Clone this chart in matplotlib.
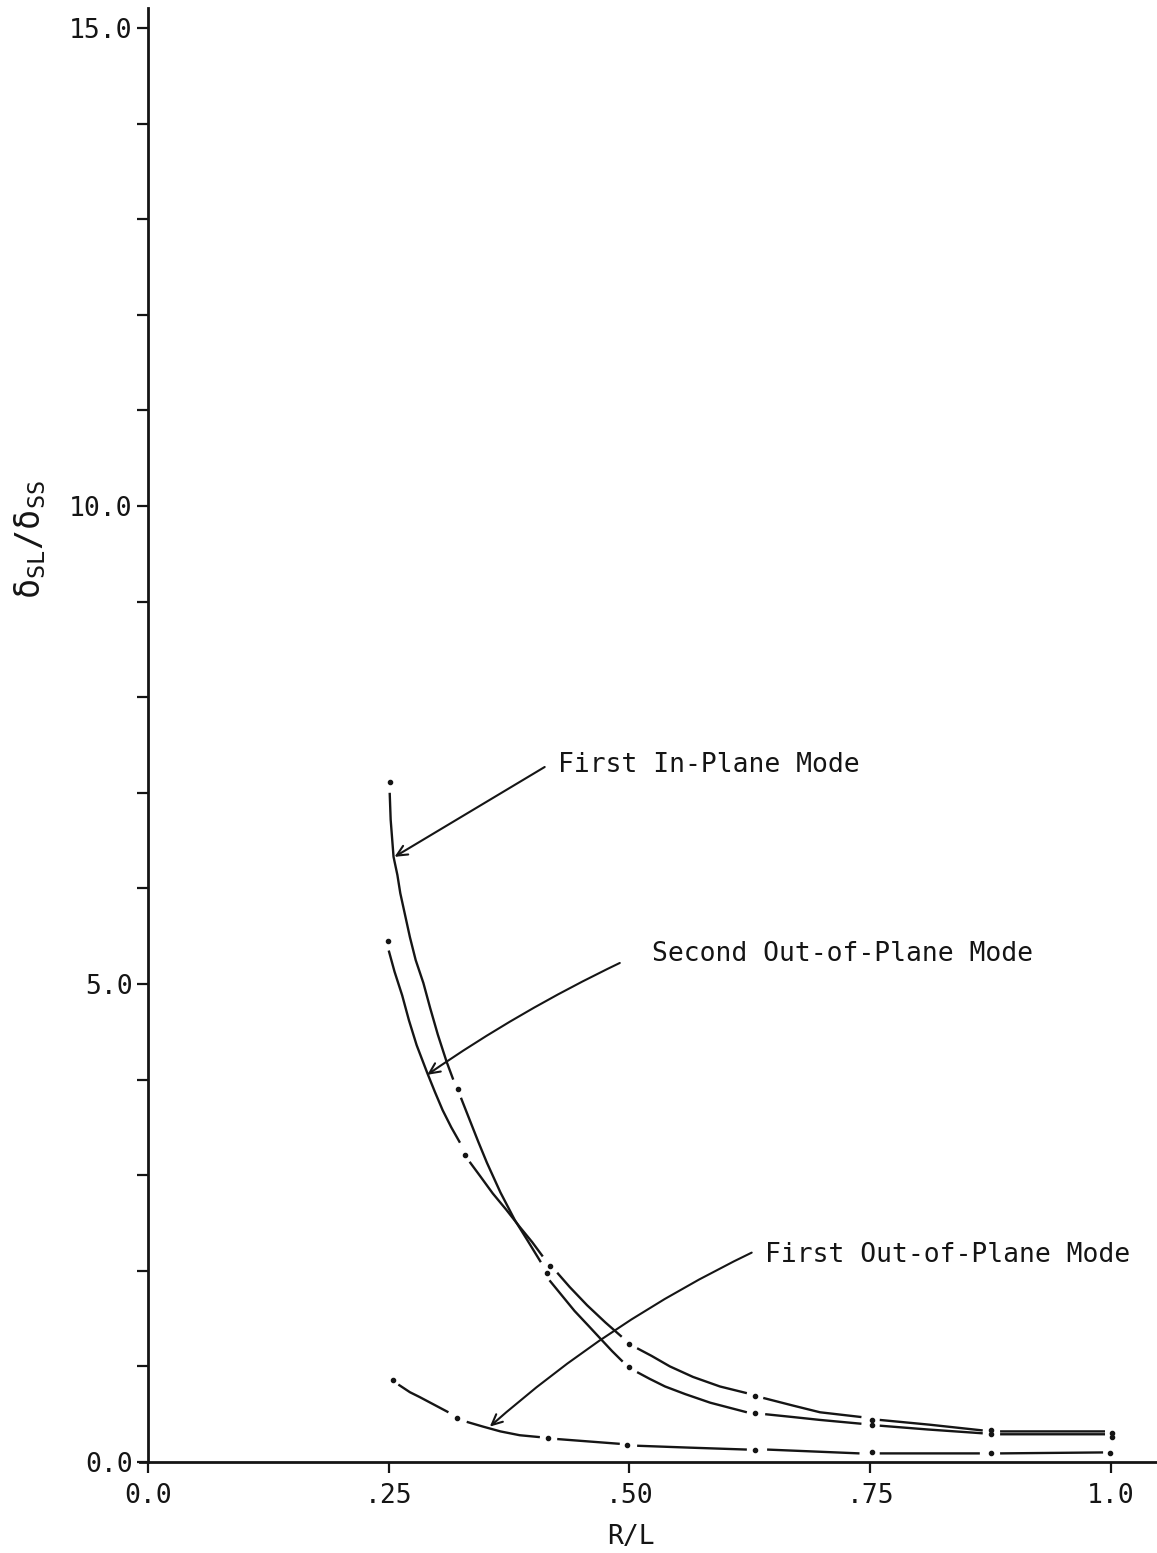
import matplotlib.pyplot as plt
from matplotlib.ticker import MultipleLocator
import numpy as np

nan = np.nan

# R/L vs delta_SL/delta_SS. nan splits the dashes of the dash-dot lines.
inplane_x = [0.251, 0.252, 0.255, 0.259, 0.262, 0.267, 0.272, 0.278, 0.286, 0.293, 0.301, 0.310, 0.317, nan,
             0.325, 0.334, 0.343, 0.352, 0.366, 0.381, 0.394, 0.408, nan,
             0.417, 0.430, 0.443, 0.457, 0.469, 0.482, 0.493, nan,
             0.508, 0.521, 0.537, 0.558, 0.584, 0.622, nan,
             0.641, 0.670, 0.698, 0.741, nan,
             0.760, 0.810, 0.867, nan,
             0.885, 0.994]
inplane_y = [7.00, 6.72, 6.33, 6.14, 5.95, 5.72, 5.49, 5.25, 5.01, 4.75, 4.47, 4.19, 4.00, nan,
             3.81, 3.58, 3.35, 3.13, 2.82, 2.53, 2.32, 2.09, nan,
             1.90, 1.74, 1.58, 1.43, 1.30, 1.16, 1.05, nan,
             0.94, 0.87, 0.79, 0.71, 0.62, 0.52, nan,
             0.50, 0.47, 0.44, 0.40, nan,
             0.38, 0.34, 0.30, nan,
             0.29, 0.29]
inplane_dot_x = [0.251, 0.322, 0.414, 0.500, 0.630, 0.752, 0.876, 1.001]
inplane_dot_y = [7.11, 3.90, 1.98, 0.99, 0.51, 0.39, 0.29, 0.26]

second_oop_x = [0.250, 0.256, 0.264, 0.271, 0.279, 0.290, 0.298, 0.306, 0.315, 0.324, nan,
                0.334, 0.345, 0.358, 0.372, 0.386, 0.399, 0.410, nan,
                0.425, 0.438, 0.456, 0.475, 0.492, nan,
                0.508, 0.523, 0.542, 0.566, 0.594, 0.622, nan,
                0.639, 0.670, 0.698, 0.741, nan,
                0.760, 0.812, 0.867, nan,
                0.885, 0.994]
second_oop_y = [5.35, 5.13, 4.88, 4.62, 4.36, 4.07, 3.87, 3.68, 3.50, 3.34, nan,
                3.14, 2.99, 2.81, 2.64, 2.46, 2.30, 2.15, nan,
                1.98, 1.83, 1.64, 1.46, 1.31, nan,
                1.19, 1.11, 1.00, 0.89, 0.79, 0.72, nan,
                0.67, 0.59, 0.52, 0.47, nan,
                0.44, 0.39, 0.33, nan,
                0.32, 0.32]
second_oop_dot_x = [0.249, 0.329, 0.417, 0.500, 0.630, 0.752, 0.876, 1.001]
second_oop_dot_y = [5.45, 3.21, 2.05, 1.23, 0.69, 0.44, 0.33, 0.30]

first_oop_x = [0.260, 0.272, 0.282, 0.297, 0.312, nan,
               0.331, 0.348, 0.366, 0.386, 0.407, nan,
               0.425, 0.490, nan,
               0.508, 0.563, 0.622, nan,
               0.643, 0.739, nan,
               0.760, 0.864, nan,
               0.885, 0.992]
first_oop_y = [0.81, 0.73, 0.68, 0.60, 0.52, nan,
               0.42, 0.37, 0.32, 0.28, 0.26, nan,
               0.24, 0.19, nan,
               0.17, 0.15, 0.13, nan,
               0.13, 0.09, nan,
               0.09, 0.09, nan,
               0.09, 0.10]
first_oop_dot_x = [0.254, 0.321, 0.415, 0.498, 0.630, 0.752, 0.876, 0.999]
first_oop_dot_y = [0.86, 0.46, 0.25, 0.18, 0.13, 0.10, 0.09, 0.09]

x_ticks = [0.0, 0.25, 0.50, 0.75, 1.0]
x_tick_labels = ['0.0', '.25', '.50', '.75', '1.0']
y_ticks = [0.0, 5.0, 10.0, 15.0]
y_tick_labels = ['0.0', '5.0', '10.0', '15.0']

# label text, its position, and where its arrow starts / points to
labels = ['First In-Plane Mode', 'Second Out-of-Plane Mode', 'First Out-of-Plane Mode']
label_pos = [(0.426, 7.22), (0.523, 5.24), (0.641, 2.09)]
arrow_start = [(0.412, 7.27), (0.490, 5.22), (0.627, 2.19)]
arrow_tip = [(0.256, 6.33), (0.290, 4.05), (0.355, 0.37)]
arrow_rad = [0.0, 0.04, 0.07]

plt.rcParams['font.family'] = ['DejaVu Sans Mono']
plt.rcParams['mathtext.fontset'] = 'custom'
plt.rcParams['mathtext.rm'] = 'DejaVu Sans Mono'
plt.rcParams['mathtext.it'] = 'DejaVu Sans Mono'
ink = '#151515'

fig = plt.figure(figsize=(11.57, 15.53), dpi=100)
ax = fig.add_axes([0.1213, 0.0586, 0.8787, 0.9363])

for xs, ys, dx, dy in [(inplane_x, inplane_y, inplane_dot_x, inplane_dot_y),
                       (second_oop_x, second_oop_y, second_oop_dot_x, second_oop_dot_y),
                       (first_oop_x, first_oop_y, first_oop_dot_x, first_oop_dot_y)]:
    ax.plot(xs, ys, color=ink, linewidth=1.7, solid_capstyle='butt', solid_joinstyle='round')
    ax.plot(dx, dy, 'o', color=ink, markersize=3.0)

for text, pos, start, tip, rad in zip(labels, label_pos, arrow_start, arrow_tip, arrow_rad):
    ax.text(pos[0], pos[1], text, fontsize=19, color=ink, ha='left', va='baseline')
    ax.annotate('', xy=tip, xytext=start,
                arrowprops=dict(arrowstyle='->,head_length=0.38,head_width=0.18',
                                connectionstyle=f'arc3,rad={rad}', color=ink,
                                linewidth=1.5, shrinkA=0, shrinkB=0,
                                mutation_scale=20))

ax.set_xlim(-0.008, 1.048)
ax.set_ylim(0, 15.21)
ax.spines['top'].set_visible(False)
ax.spines['right'].set_visible(False)
ax.spines['left'].set_position(('data', 0))
for side in ['left', 'bottom']:
    ax.spines[side].set_linewidth(2.0)
    ax.spines[side].set_color(ink)

ax.set_xticks(x_ticks)
ax.set_xticklabels(x_tick_labels)
ax.set_yticks(y_ticks)
ax.set_yticklabels(y_tick_labels)
ax.yaxis.set_minor_locator(MultipleLocator(1.0))
ax.tick_params(axis='both', which='both', direction='out', length=8, width=1.6, color=ink,
               labelsize=19, labelcolor=ink)
ax.tick_params(axis='x', pad=7)
ax.tick_params(axis='y', pad=3)

fig.text(30 / 1157, 1 - 540 / 1553, r'$\mathrm{δ}_{\mathrm{SL}}\mathrm{/}\mathrm{δ}_{\mathrm{SS}}$',
         rotation=90, ha='center', va='center', fontsize=24, color=ink)
fig.text(631 / 1157, 1 - 1537 / 1553, 'R/L', ha='center', va='center', fontsize=19, color=ink)

fig.savefig('out.png', dpi=100)
